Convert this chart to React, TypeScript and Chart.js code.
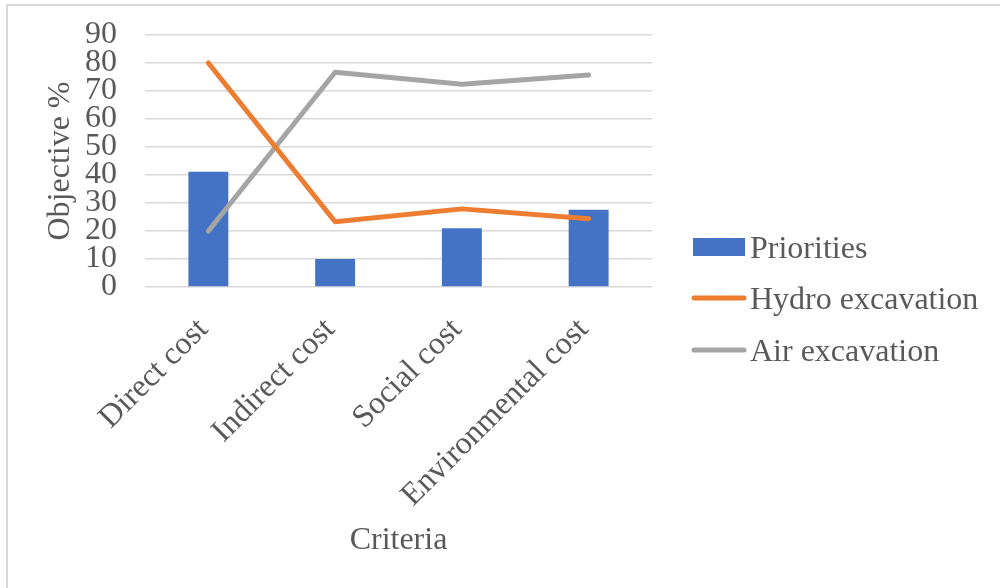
import React, { useEffect, useRef } from "react";
import { Chart, registerables } from "chart.js";

Chart.register(...registerables);

const categories = ["Direct cost", "Indirect cost", "Social cost", "Environmental cost"];
const priorities = [41.2, 10.0, 21.0, 27.6];
const hydroExcavation = [80.0, 23.3, 27.9, 24.4];
const airExcavation = [20.0, 76.7, 72.4, 75.7];
const yTicks = [0, 10, 20, 30, 40, 50, 60, 70, 80, 90];

const FONT = "'Liberation Serif', 'Times New Roman', serif";
const TEXT = "#595959";

const legendPlugin = {
  id: "customLegend",
  afterDraw(chart: any) {
    const ctx = chart.ctx;
    const x0 = chart.chartArea.right + 41;
    const centers = [247, 298, 350];
    ctx.save();
    chart.data.datasets.forEach((ds: any, i: number) => {
      const cy = centers[i];
      if (ds.type === "line") {
        ctx.strokeStyle = ds.borderColor;
        ctx.lineWidth = 5;
        ctx.lineCap = "round";
        ctx.beginPath();
        ctx.moveTo(x0 + 1, cy);
        ctx.lineTo(x0 + 51, cy);
        ctx.stroke();
      } else {
        ctx.fillStyle = ds.backgroundColor;
        ctx.fillRect(x0, cy - 9, 52, 18);
      }
      ctx.fillStyle = TEXT;
      ctx.font = `32px ${FONT}`;
      ctx.textBaseline = "alphabetic";
      ctx.textAlign = "left";
      ctx.fillText(ds.label, x0 + 57, cy + 11);
    });
    ctx.restore();
  },
};

const framePlugin = {
  id: "frame",
  beforeDraw(chart: any) {
    const ctx = chart.ctx;
    ctx.save();
    ctx.fillStyle = "#ffffff";
    ctx.fillRect(0, 0, chart.width, chart.height);
    ctx.strokeStyle = "#d9d9d9";
    ctx.lineWidth = 2;
    ctx.strokeRect(7, 5, 1200, 800);
    ctx.restore();
  },
};

export default function App() {
  const ref = useRef<HTMLCanvasElement | null>(null);
  useEffect(() => {
    if (!ref.current) return;
    const chart = new Chart(ref.current, {
      type: "bar",
      data: {
        labels: categories,
        datasets: [
          {
            type: "bar",
            label: "Priorities",
            data: priorities,
            backgroundColor: "#4472C4",
            barPercentage: 0.315,
            categoryPercentage: 1,
            order: 3,
          },
          {
            type: "line",
            label: "Hydro excavation",
            data: hydroExcavation,
            borderColor: "#ED7D31",
            backgroundColor: "#ED7D31",
            borderWidth: 5,
            pointRadius: 0,
            borderCapStyle: "round",
            borderJoinStyle: "round",
            tension: 0,
            order: 1,
          },
          {
            type: "line",
            label: "Air excavation",
            data: airExcavation,
            borderColor: "#A5A5A5",
            backgroundColor: "#A5A5A5",
            borderWidth: 5,
            pointRadius: 0,
            borderCapStyle: "round",
            borderJoinStyle: "round",
            tension: 0,
            order: 2,
          },
        ] as any,
      },
      options: {
        responsive: false,
        animation: false,
        layout: { padding: { left: 0, right: 348, top: 35, bottom: 0 } },
        plugins: {
          legend: { display: false },
          tooltip: { enabled: false },
        },
        scales: {
          x: {
            offset: true,
            grid: { display: false },
            border: { display: false },
            ticks: {
              color: TEXT,
              font: { family: FONT, size: 32, lineHeight: 1.2 },
              minRotation: 45,
              maxRotation: 45,
              autoSkip: false,
              padding: 16,
              labelOffset: -5,
            },
            title: {
              display: true,
              text: "Criteria",
              color: TEXT,
              font: { family: FONT, size: 32, lineHeight: 1.2 },
              padding: { top: 0, bottom: 28 },
            },
            afterFit(scale: any) {
              scale.height = 301;
              scale.paddingLeft = 0;
              scale.paddingRight = 0;
            },
          },
          y: {
            min: 0,
            max: 90,
            afterBuildTicks(scale: any) {
              scale.ticks = yTicks.map((v) => ({ value: v }));
            },
            grid: { color: "#d9d9d9", lineWidth: 1.5, drawTicks: false },
            border: { display: false },
            ticks: {
              color: TEXT,
              font: { family: FONT, size: 32, lineHeight: 1 },
              autoSkip: false,
              padding: 28,
            },
            title: {
              display: true,
              text: "Objective %",
              color: TEXT,
              font: { family: FONT, size: 32, lineHeight: 1.2 },
              padding: { top: 41, bottom: 0 },
            },
            afterFit(scale: any) {
              scale.width = 145;
              scale.paddingTop = 0;
              scale.paddingBottom = 0;
            },
          },
        },
      },
      plugins: [framePlugin, legendPlugin],
    } as any);
    return () => chart.destroy();
  }, []);
  return (
    <div style={{ position: "fixed", left: 0, top: 0, width: 1000, height: 588, overflow: "hidden", background: "#fff" }}>
      <canvas ref={ref} width={1000} height={588} style={{ display: "block" }} />
    </div>
  );
}
